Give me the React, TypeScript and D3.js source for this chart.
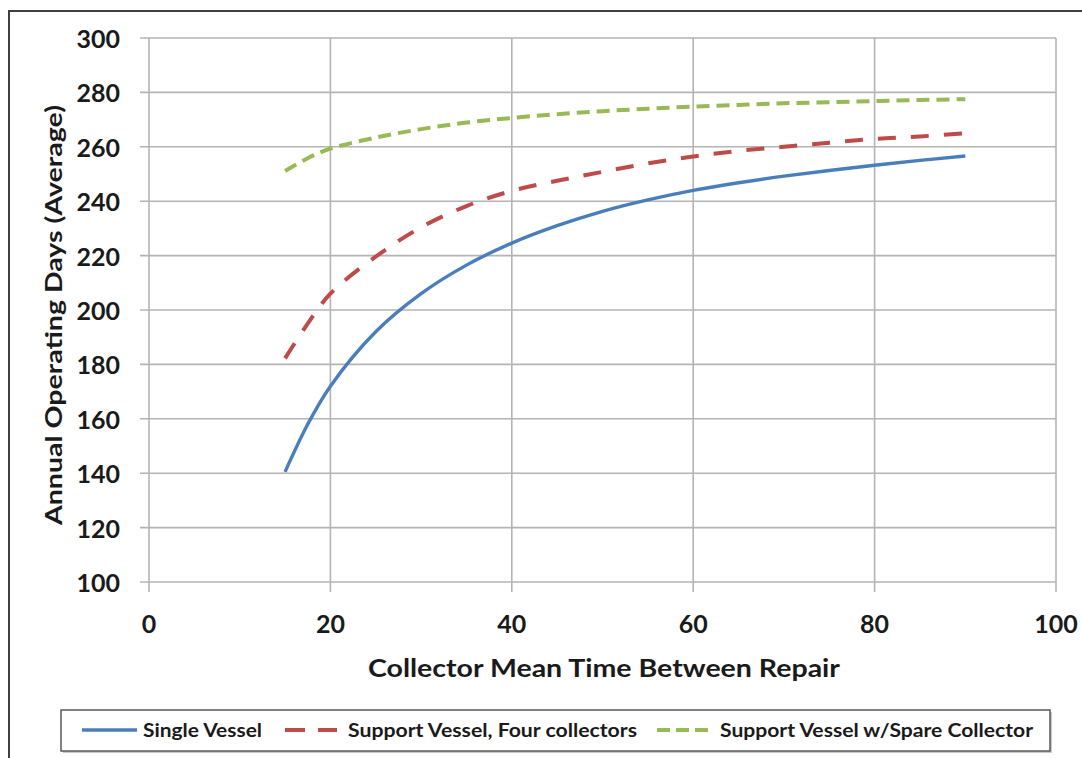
import React from "react";
import * as d3 from "d3";

const xValues = [15, 17.5, 20, 25, 30, 35, 40, 45, 50, 55, 60, 65, 70, 75, 80, 85, 90];
const singleVessel = [140.5, 158, 172, 192, 206, 216.5, 224.6, 231, 236.3, 240.5, 244, 246.8, 249.2, 251.3, 253.2, 255, 256.6];
const supportFour = [182.2, 195, 206, 219.6, 230.4, 238.2, 243.8, 247.5, 250.8, 253.9, 256.4, 258.5, 260, 261.5, 262.9, 263.8, 265];
const supportSpare = [251.1, 255.8, 259.3, 263.4, 266.5, 268.9, 270.6, 272, 273.1, 274, 274.8, 275.4, 276, 276.4, 276.8, 277.2, 277.5];

const xTicks = [0, 20, 40, 60, 80, 100];
const yTicks = [100, 120, 140, 160, 180, 200, 220, 240, 260, 280, 300];

const seriesNames = ["Single Vessel", "Support Vessel, Four collectors", "Support Vessel w/Spare Collector"];

const FONT = "Lato, 'Open Sans', sans-serif";

export default function App() {
  const x = d3.scaleLinear().domain([0, 100]).range([149, 1056]);
  const y = d3.scaleLinear().domain([100, 300]).range([582, 38]);

  const line = d3
    .line<[number, number]>()
    .x((d) => x(d[0]))
    .y((d) => y(d[1]))
    .curve(d3.curveCatmullRom.alpha(0.5));

  const series = [
    { name: seriesNames[0], values: singleVessel, color: "#4A7EBB", width: 3.4, dash: undefined as string | undefined },
    { name: seriesNames[1], values: supportFour, color: "#BE4B48", width: 4, dash: "18 15" },
    { name: seriesNames[2], values: supportSpare, color: "#98B954", width: 4, dash: "13 7" },
  ];

  const gridColor = "#b4b4b4";
  const textColor = "#1a1a1a";

  const legendItems = [
    { sx1: 82, sx2: 137, tx: 143, tlen: 119, dash: undefined as string | undefined },
    { sx1: 285, sx2: 337, tx: 348, tlen: 289, dash: "20 13" },
    { sx1: 657, sx2: 708, tx: 720, tlen: 313, dash: "13 6" },
  ];

  return (
    <svg
      width={1082}
      height={758}
      style={{ position: "absolute", left: 0, top: 0, background: "#fff" }}
    >
      <rect x={0} y={0} width={1082} height={758} fill="#fff" />
      <rect x={9} y={11} width={1100} height={800} fill="none" stroke="#404040" strokeWidth={2} />

      {/* grid */}
      {yTicks.map((t) => (
        <line key={"gy" + t} x1={140} x2={1056} y1={y(t)} y2={y(t)} stroke={gridColor} strokeWidth={1.6} />
      ))}
      {xTicks.map((t) => (
        <line key={"gx" + t} x1={x(t)} x2={x(t)} y1={38} y2={592} stroke={gridColor} strokeWidth={1.6} />
      ))}

      {/* y tick labels */}
      {yTicks.map((t) => (
        <text
          key={"ly" + t}
          x={120}
          y={y(t)}
          textAnchor="end"
          dominantBaseline="central"
          fontFamily={FONT}
          fontWeight="bold"
          fontSize={25}
          fill={textColor}
        >
          {t}
        </text>
      ))}
      {/* x tick labels */}
      {xTicks.map((t) => (
        <text
          key={"lx" + t}
          x={x(t)}
          y={633}
          textAnchor="middle"
          fontFamily={FONT}
          fontWeight="bold"
          fontSize={25}
          fill={textColor}
        >
          {t}
        </text>
      ))}

      {/* axis titles */}
      <text
        x={604}
        y={677}
        textAnchor="middle"
        fontFamily={FONT}
        fontWeight="bold"
        fontSize={25}
        fill={textColor}
        textLength={472}
        lengthAdjust="spacingAndGlyphs"
      >
        Collector Mean Time Between Repair
      </text>
      <text
        transform="translate(62,315) rotate(-90)"
        textAnchor="middle"
        fontFamily={FONT}
        fontWeight="bold"
        fontSize={22.5}
        fill={textColor}
        textLength={420}
        lengthAdjust="spacingAndGlyphs"
      >
        Annual Operating Days (Average)
      </text>

      {/* series */}
      {series.map((s) => (
        <path
          key={s.name}
          d={line(xValues.map((xv, i) => [xv, s.values[i]] as [number, number])) || ""}
          fill="none"
          stroke={s.color}
          strokeWidth={s.width}
          strokeDasharray={s.dash}
          strokeLinejoin="round"
        />
      ))}

      {/* legend */}
      <rect x={63} y={712} width={989} height={41} fill="#c8c8c8" />
      <rect x={61} y={710} width={989} height={41} fill="#fff" stroke="#5a5a5a" strokeWidth={1.5} />
      {series.map((s, i) => {
        const li = legendItems[i];
        return (
          <g key={"lg" + i}>
            <line
              x1={li.sx1}
              x2={li.sx2}
              y1={730}
              y2={730}
              stroke={s.color}
              strokeWidth={s.width}
              strokeDasharray={li.dash}
            />
            <text
              x={li.tx}
              y={737}
              fontFamily={FONT}
              fontWeight="bold"
              fontSize={19}
              fill={textColor}
              textLength={li.tlen}
              lengthAdjust="spacingAndGlyphs"
            >
              {s.name}
            </text>
          </g>
        );
      })}
    </svg>
  );
}
